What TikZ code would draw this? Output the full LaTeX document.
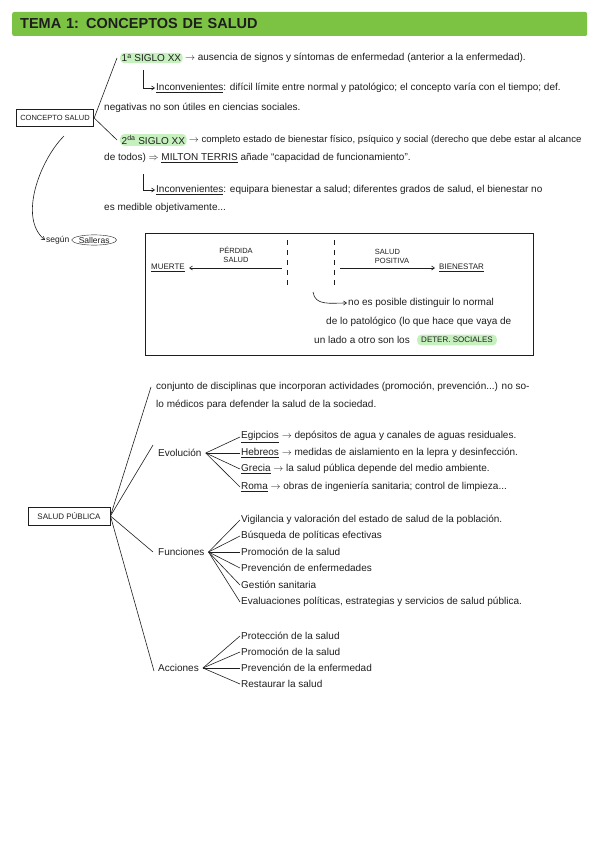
\documentclass[tikz,border=0pt]{standalone}
\usepackage{fontspec}
\setmainfont{Liberation Sans}
\usepackage{xcolor}
\usetikzlibrary{positioning, calc, shapes.geometric, arrows.meta}
\definecolor{leaf}{HTML}{7CC243}
\definecolor{mint}{HTML}{C6F1BE}
\definecolor{ink}{HTML}{1E1E1E}

\begin{document}
\begin{tikzpicture}[x=1pt, y=-1pt, font=\fontsize{10}{11}\selectfont, text=ink,
  txt/.style={anchor=west, inner sep=1pt},
  hl/.style={anchor=west, fill=mint, rounded corners=4pt, inner sep=1.5pt},
  frame/.style={draw=ink, line width=0.9pt, inner xsep=4pt, inner ysep=3.5pt, font=\fontsize{7.5}{8}\selectfont},
  wire/.style={draw=ink, line width=0.6pt},
  arr/.style={wire, -{Straight Barb[length=3pt, width=4pt]}}]
  \useasboundingbox (0,0) rectangle (599,848);
  % Title
  \node[anchor=west, fill=leaf, rounded corners=2pt, text width=559pt, inner xsep=8pt,
    minimum height=24pt, font=\fontsize{14.5}{15}\selectfont\bfseries] (title) at (12,24)
    {TEMA 1: CONCEPTOS DE SALUD};

  % Concepto salud
  \node[frame, minimum height=17pt] (cs) at (55,118) {CONCEPTO SALUD};
  \node[hl] (s1) at (120,58) {1\textsuperscript{a} SIGLO XX};
  \node[txt, right=1pt of s1] (s1t) {$\rightarrow$ ausencia de signos y síntomas de enfermedad (anterior a la enfermedad).};
  \node[txt] (inc1) at (155,88) {\underline{Inconvenientes}: difícil límite entre normal y patológico; el concepto varía con el tiempo; def.};
  \node[txt] (inc1b) at (103,108) {negativas no son útiles en ciencias sociales.};
  \node[hl] (s2) at (120,140) {2\textsuperscript{da} SIGLO XX};
  \node[txt, right=1pt of s2, font=\fontsize{9.6}{11}\selectfont] (s2t) {$\rightarrow$ completo estado de bienestar físico, psíquico y social (derecho que debe estar al alcance};
  \node[txt] (s2b) at (103,158) {de todos) $\Rightarrow$ \underline{MILTON TERRIS} añade ``capacidad de funcionamiento''.};
  \node[txt] (inc2) at (155,190) {\underline{Inconvenientes}: equipara bienestar a salud; diferentes grados de salud, el bienestar no};
  \node[txt] (inc2b) at (103,208) {es medible objetivamente...};
  \coordinate (e1) at (143,70);
  \coordinate (e2) at (143,174);
  \draw[wire] (cs.east) -- ([xshift=-3pt]s1.west);
  \draw[wire] (cs.east) -- ([xshift=-3pt]s2.west);
  \draw[arr] (e1) |- (inc1.west);
  \draw[arr] (e2) |- (inc2.west);

  % Salleras
  \coordinate (cb) at (64,136);
  \node[txt, font=\fontsize{8.5}{9}\selectfont] (segun) at (45,240) {según};
  \node[draw=ink, ellipse, inner sep=0.5pt, right=1pt of segun, font=\fontsize{8.5}{9}\selectfont] (sal) {Salleras};
  \draw[arr] (cb) .. controls (40,160) and (18,218) .. (segun.west);

  % Modelo
  \node[draw=ink, line width=0.9pt, minimum width=388pt, minimum height=122pt] (modelo) at (339,294) {};
  \draw[wire, dash pattern=on 5pt off 5pt] (287,240) -- (287,286);
  \draw[wire, dash pattern=on 5pt off 5pt] (334,240) -- (334,286);
  \node[align=center, font=\fontsize{7.5}{9}\selectfont] (perd) at (236,255) {PÉRDIDA\\SALUD};
  \node[align=left, font=\fontsize{7.5}{9}\selectfont] (posi) at (392,256) {SALUD\\POSITIVA};
  \node[txt, font=\fontsize{8}{9}\selectfont] (muerte) at (150,268) {\underline{MUERTE}};
  \node[txt, font=\fontsize{8}{9}\selectfont] (bien) at (438,268) {\underline{BIENESTAR}};
  \coordinate (m1) at (282,268);
  \coordinate (m2) at (340,268);
  \draw[arr] (m1) -- ([xshift=3pt]muerte.east);
  \draw[arr] (m2) -- ([xshift=-3pt]bien.west);
  \node[txt] (nota) at (347,303) {no es posible distinguir lo normal};
  \node[txt] (notab) at (325,322) {de lo patológico (lo que hace que vaya de};
  \node[txt] (notac) at (313,340) {un lado a otro son los};
  \node[hl, right=6pt of notac, font=\fontsize{8}{9}\selectfont, inner xsep=4pt, inner ysep=2.5pt] (det) {DETER. SOCIALES};
  \coordinate (h1) at (313,292);
  \draw[arr] (h1) .. controls (315,306) and (330,303) .. (nota.west);

  % Salud publica
  \node[frame, minimum width=82pt, minimum height=18pt, font=\fontsize{8}{9}\selectfont] (sp) at (69,516) {SALUD PÚBLICA};
  \node[txt] (conj) at (155,387) {conjunto de disciplinas que incorporan actividades (promoción, prevención...) no so-};
  \node[txt] (conjb) at (155,405) {lo médicos para defender la salud de la sociedad.};
  \node[txt] (evol) at (157,453) {Evolución};
  \node[txt] (func) at (157,552) {Funciones};
  \node[txt] (acc) at (157,668) {Acciones};
  \draw[wire] (sp.east) -- ([xshift=-4pt]conj.west);
  \draw[wire] (sp.east) -- ([shift={(-4pt,8pt)}]evol.west);
  \draw[wire] (sp.east) -- ([xshift=-4pt]func.west);
  \draw[wire] (sp.east) -- ([shift={(-3pt,-3pt)}]acc.west);

  \foreach \n/\y/\t in {eg/437/{\underline{Egipcios} $\rightarrow$ depósitos de agua y canales de aguas residuales.},
      he/453/{\underline{Hebreos} $\rightarrow$ medidas de aislamiento en la lepra y desinfección.},
      gr/469/{\underline{Grecia} $\rightarrow$ la salud pública depende del medio ambiente.},
      ro/487/{\underline{Roma} $\rightarrow$ obras de ingeniería sanitaria; control de limpieza...}} {
    \node[txt] (ev-\n) at (240,\y) {\t};
    \draw[wire] ([xshift=3pt]evol.east) -- (ev-\n.west);
  }
  \foreach \n/\y/\t in {vi/520/{Vigilancia y valoración del estado de salud de la población.},
      bu/536/{Búsqueda de políticas efectivas},
      pr/552/{Promoción de la salud},
      pv/568/{Prevención de enfermedades},
      ge/585/{Gestión sanitaria},
      ev/602/{Evaluaciones políticas, estrategias y servicios de salud pública.}} {
    \node[txt] (fu-\n) at (240,\y) {\t};
    \draw[wire] ([xshift=3pt]func.east) -- (fu-\n.west);
  }
  \foreach \n/\y/\t in {pt/636/{Protección de la salud},
      pm/652/{Promoción de la salud},
      pv/668/{Prevención de la enfermedad},
      re/684/{Restaurar la salud}} {
    \node[txt] (ac-\n) at (240,\y) {\t};
    \draw[wire] ([xshift=3pt]acc.east) -- (ac-\n.west);
  }
\end{tikzpicture}
\end{document}
